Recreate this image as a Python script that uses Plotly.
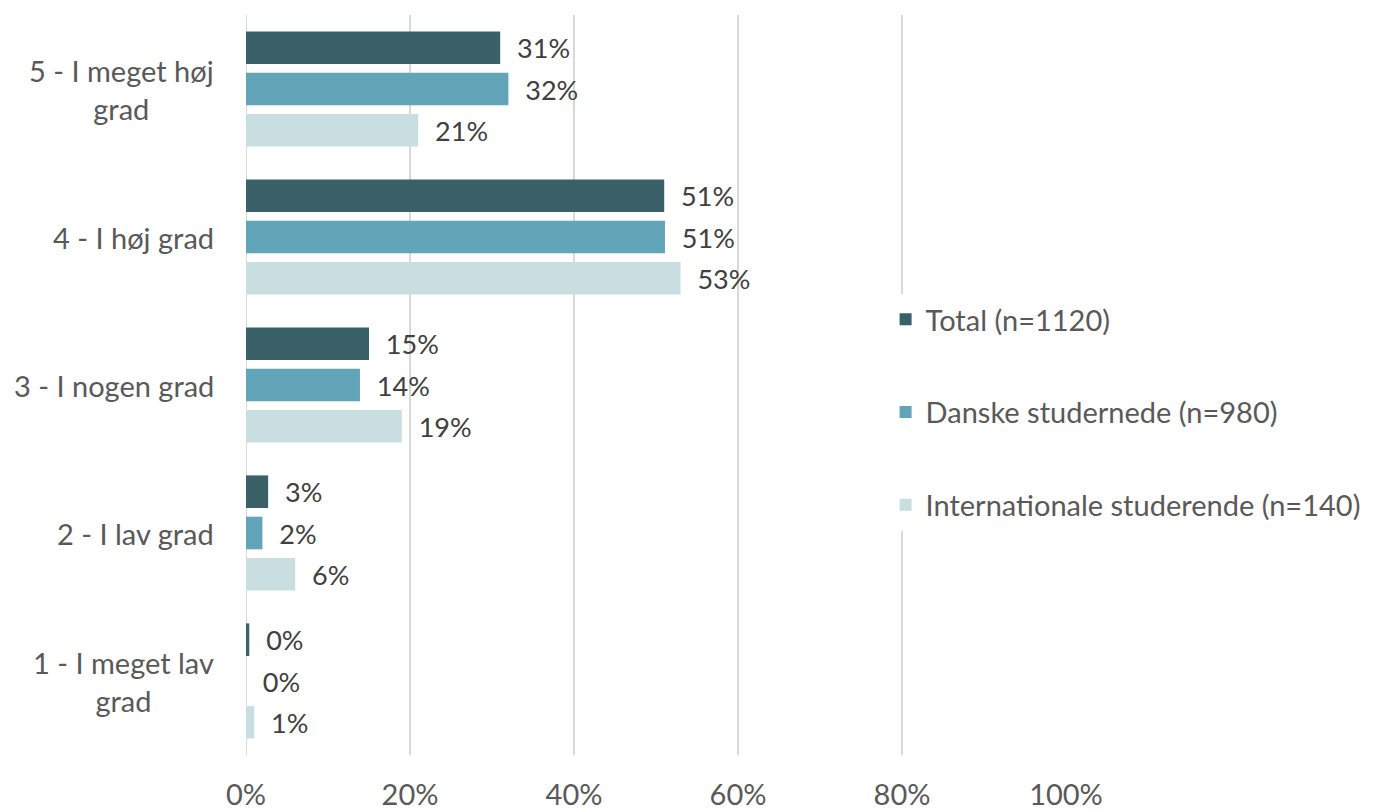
import plotly.graph_objects as go

categories = ["5 - I meget høj<br>grad", "4 - I høj grad", "3 - I nogen grad", "2 - I lav grad", "1 - I meget lav<br>grad"]
series_names = ["Total (n=1120)", "Danske studernede (n=980)", "Internationale studerende (n=140)"]
total = [0.31, 0.51, 0.15, 0.027, 0.004]
danske = [0.32, 0.511, 0.139, 0.02, 0.0]
internationale = [0.21, 0.53, 0.19, 0.06, 0.01]
x_ticks = [0, 0.2, 0.4, 0.6, 0.8, 1.0]
x_ticklabels = ["0%", "20%", "40%", "60%", "80%", "100%"]

colors = ["#3A6168", "#62A5B8", "#C9DEE1"]
FONT = "Lato"
FS = 29

fig = go.Figure()
for name, vals, col in zip(series_names, [total, danske, internationale], colors):
    fig.add_trace(go.Bar(
        y=categories, x=vals, orientation="h", name=name,
        marker=dict(color=col, line=dict(width=0)),
        text=vals, texttemplate="\u00a0\u00a0%{x:.0%}", textposition="outside",
        textfont=dict(family=FONT, size=FS, color="#404040"),
        cliponaxis=False, legendgroup=name,
    ))

for c in categories:
    fig.add_annotation(x=0, y=c, xref="x", yref="y", text=c, showarrow=False,
                       xanchor="right", align="center", xshift=-30,
                       font=dict(family=FONT, size=FS, color="#595959"))

fig.update_layout(
    width=1370, height=811,
    margin=dict(l=238, r=312, t=7, b=64, autoexpand=False),
    plot_bgcolor="white", paper_bgcolor="white",
    barmode="group", bargap=0.163, bargroupgap=0.21,
    font=dict(family=FONT, size=FS, color="#595959"),
    showlegend=True,
    legend=dict(x=0.78, y=0.623, xanchor="left", yanchor="top",
                bgcolor="white", traceorder="grouped", tracegroupgap=52,
                font=dict(family=FONT, size=FS, color="#595959")),
    xaxis=dict(range=[0, 1.0], tickvals=x_ticks, ticktext=x_ticklabels,
               showgrid=True, gridcolor="#D9D9D9", gridwidth=2,
               zeroline=False, showline=False, automargin=False,
               ticks="outside", ticklen=14, tickcolor="rgba(0,0,0,0)",
               tickfont=dict(family=FONT, size=FS, color="#595959")),
    yaxis=dict(autorange="reversed", showticklabels=False, showgrid=False,
               zeroline=False, showline=False, automargin=False),
)
fig.add_shape(type="line", xref="x", yref="paper", x0=0, x1=0, y0=0, y1=1,
              line=dict(color="#D9D9D9", width=2), layer="below")

fig.write_html("out.html")
